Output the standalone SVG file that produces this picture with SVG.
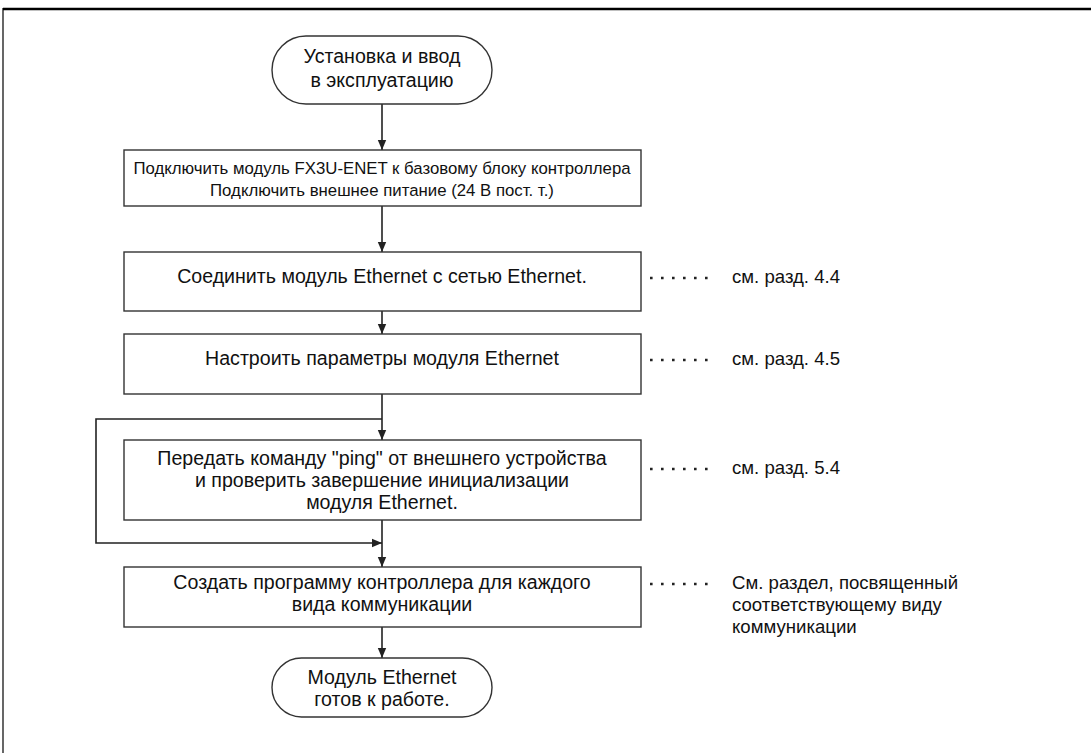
<svg xmlns="http://www.w3.org/2000/svg" width="1091" height="753" viewBox="0 0 1091 753">
<defs>
<marker id="ah" viewBox="0 0 10 10" refX="10" refY="5" markerWidth="10" markerHeight="10" markerUnits="userSpaceOnUse" orient="auto">
<path d="M0,0.8 L10,5 L0,9.2 Z" fill="#222"/>
</marker>
<style>
.box{fill:#fff;stroke:#333;stroke-width:1.4}
.t{font-family:"Liberation Sans",Arial,sans-serif;font-size:19.6px;fill:#111;text-anchor:middle}
.ts{font-family:"Liberation Sans",Arial,sans-serif;font-size:16.8px;fill:#111;text-anchor:middle}
.l{font-family:"Liberation Sans",Arial,sans-serif;font-size:18.6px;fill:#111}
.c{fill:none;stroke:#222;stroke-width:1.6}
.dots{fill:none;stroke:#222;stroke-width:2.6;stroke-dasharray:2.6 8.4}
</style>
</defs>
<rect width="1091" height="753" fill="#fff"/>
<g id="frame">
<line x1="3" y1="9" x2="1091" y2="9" stroke="#000" stroke-width="2.4"/>
<line x1="3" y1="8" x2="3" y2="753" stroke="#000" stroke-width="1.2"/>
</g>
<g id="connectors">
<line class="c" x1="382" y1="104" x2="382" y2="150" marker-end="url(#ah)"/>
<line class="c" x1="382" y1="206" x2="382" y2="252" marker-end="url(#ah)"/>
<line class="c" x1="382" y1="311" x2="382" y2="334" marker-end="url(#ah)"/>
<line class="c" x1="382" y1="394" x2="382" y2="440" marker-end="url(#ah)"/>
<polyline class="c" points="382,419 96,419 96,543 382,543" marker-end="url(#ah)"/>
<line class="c" x1="382" y1="520" x2="382" y2="567" marker-end="url(#ah)"/>
<line class="c" x1="382" y1="627" x2="382" y2="658" marker-end="url(#ah)"/>
</g>
<g id="start">
<rect class="box" x="272" y="36" width="220" height="68" rx="34" ry="34"/>
<text class="t" x="382" y="63">Установка и ввод</text>
<text class="t" x="382" y="87">в эксплуатацию</text>
</g>
<g id="step1">
<rect class="box" x="124" y="150" width="517" height="56"/>
<text class="ts" x="382" y="174">Подключить модуль FX3U-ENET к базовому блоку контроллера</text>
<text class="ts" x="382" y="196">Подключить внешнее питание (24 В пост. т.)</text>
</g>
<g id="step2">
<rect class="box" x="124" y="252" width="517" height="59"/>
<text class="t" x="382" y="283">Соединить модуль Ethernet с сетью Ethernet.</text>
</g>
<g id="step3">
<rect class="box" x="124" y="334" width="517" height="60"/>
<text class="t" x="382" y="365">Настроить параметры модуля Ethernet</text>
</g>
<g id="step4">
<rect class="box" x="124" y="440" width="517" height="80"/>
<text class="t" x="382" y="465">Передать команду "ping" от внешнего устройства</text>
<text class="t" x="382" y="487">и проверить завершение инициализации</text>
<text class="t" x="382" y="509">модуля Ethernet.</text>
</g>
<g id="step5">
<rect class="box" x="124" y="567" width="517" height="60"/>
<text class="t" x="382" y="589">Создать программу контроллера для каждого</text>
<text class="t" x="382" y="611">вида коммуникации</text>
</g>
<g id="end">
<rect class="box" x="272" y="658" width="220" height="59" rx="29.5" ry="29.5"/>
<text class="t" x="382" y="684">Модуль Ethernet</text>
<text class="t" x="382" y="706">готов к работе.</text>
</g>
<g id="refs">
<line class="dots" x1="650" y1="278" x2="708" y2="278"/>
<text class="l" x="732" y="283">см. разд. 4.4</text>
<line class="dots" x1="650" y1="360" x2="708" y2="360"/>
<text class="l" x="732" y="365">см. разд. 4.5</text>
<line class="dots" x1="650" y1="469" x2="708" y2="469"/>
<text class="l" x="732" y="474">см. разд. 5.4</text>
<line class="dots" x1="650" y1="584" x2="708" y2="584"/>
<text class="l" x="732" y="589">См. раздел, посвященный</text>
<text class="l" x="732" y="611">соответствующему виду</text>
<text class="l" x="732" y="633">коммуникации</text>
</g>
</svg>
